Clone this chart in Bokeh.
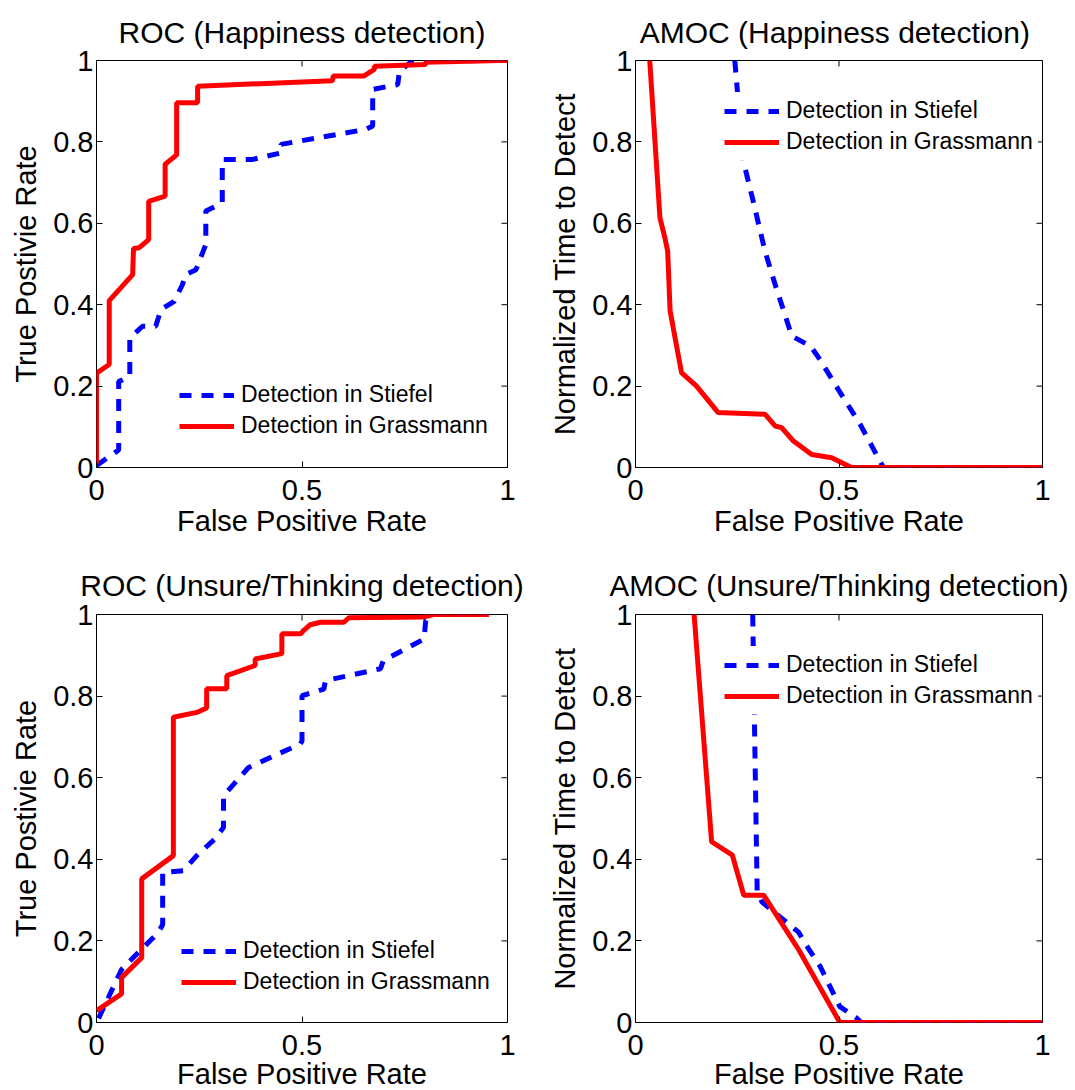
from bokeh.plotting import figure
from bokeh.models import Range1d, FixedTicker, CustomJSTickFormatter, Legend, LegendItem
from bokeh.layouts import column, row
from bokeh.embed import file_html
from bokeh.resources import INLINE

FONT = "Liberation Sans"
BLUE = "#0000ff"
RED = "#ff0000"

# ---------------- data ----------------
titles = ["ROC (Happiness detection)", "AMOC  (Happiness detection)",
          "ROC (Unsure/Thinking detection)", "AMOC (Unsure/Thinking detection)"]
xlabel = "False Positive Rate"
ylabel_roc = "True Postivie Rate"
ylabel_amoc = "Normalized Time to Detect"
legend_labels = ["Detection in Stiefel", "Detection in Grassmann"]
x_ticks = [0, 0.5, 1]
y_ticks = [0, 0.2, 0.4, 0.6, 0.8, 1]

# ROC - Happiness
roc_hap_stiefel_fpr = [0.0, 0.054, 0.054, 0.081, 0.081, 0.112, 0.144, 0.157, 0.189, 0.209, 0.217,
                       0.242, 0.266, 0.266, 0.306, 0.306, 0.38, 0.449, 0.449, 0.656, 0.672, 0.672,
                       0.733, 0.737, 0.769, 1.0]
roc_hap_stiefel_tpr = [0.005, 0.043, 0.211, 0.224, 0.318, 0.347, 0.347, 0.388, 0.408, 0.449, 0.474,
                       0.486, 0.548, 0.63, 0.65, 0.757, 0.757, 0.773, 0.794, 0.831, 0.839, 0.929,
                       0.941, 0.974, 0.999, 1.0]
roc_hap_grass_fpr = [0.0, 0.0, 0.031, 0.031, 0.088, 0.090, 0.104, 0.127, 0.127, 0.167, 0.167, 0.195,
                     0.195, 0.246, 0.246, 0.574, 0.576, 0.651, 0.676, 0.676, 0.801, 0.801, 0.98, 1.0]
roc_hap_grass_tpr = [0.01, 0.232, 0.253, 0.41, 0.474, 0.538, 0.54, 0.56, 0.654, 0.667, 0.745, 0.768,
                     0.896, 0.896, 0.937, 0.95, 0.962, 0.962, 0.978, 0.986, 0.99, 0.996, 1.0, 1.0]

# AMOC - Happiness
amoc_hap_stiefel_fpr = [0.244, 0.251, 0.265, 0.289, 0.318, 0.343, 0.384, 0.43, 0.45, 0.498, 0.552,
                        0.609, 1.0]
amoc_hap_stiefel_t = [1.0, 0.917, 0.753, 0.655, 0.532, 0.45, 0.323, 0.298, 0.27, 0.192, 0.106,
                      0.0, 0.0]
amoc_hap_grass_fpr = [0.035, 0.06, 0.072, 0.079, 0.085, 0.113, 0.15, 0.203, 0.318, 0.343, 0.359,
                      0.388, 0.433, 0.482, 0.531, 1.0]
amoc_hap_grass_t = [1.0, 0.614, 0.565, 0.532, 0.385, 0.233, 0.2, 0.135, 0.131, 0.102, 0.098,
                    0.065, 0.032, 0.024, 0.0, 0.0]

# ROC - Unsure/Thinking
roc_uns_stiefel_fpr = [0.005, 0.061, 0.1, 0.15, 0.161, 0.161, 0.211, 0.244, 0.288, 0.309, 0.309,
                       0.37, 0.496, 0.5, 0.5, 0.553, 0.557, 0.691, 0.698, 0.797, 0.801, 0.821, 0.955]
roc_uns_stiefel_tpr = [0.01, 0.13, 0.17, 0.22, 0.24, 0.368, 0.372, 0.409, 0.45, 0.478, 0.556,
                       0.625, 0.683, 0.69, 0.801, 0.817, 0.838, 0.867, 0.887, 0.94, 0.985, 1.0, 1.0]
roc_uns_grass_fpr = [0.0, 0.061, 0.061, 0.11, 0.11, 0.187, 0.187, 0.244, 0.268, 0.268, 0.317, 0.317,
                     0.386, 0.386, 0.451, 0.451, 0.497, 0.503, 0.52, 0.545, 0.602, 0.614, 0.797,
                     0.821, 0.955]
roc_uns_grass_tpr = [0.029, 0.07, 0.11, 0.159, 0.352, 0.409, 0.748, 0.76, 0.771, 0.818, 0.818, 0.85,
                     0.875, 0.891, 0.904, 0.953, 0.953, 0.96, 0.975, 0.981, 0.981, 0.992, 0.994,
                     1.0, 1.0]

# AMOC - Unsure/Thinking
amoc_uns_stiefel_fpr = [0.288, 0.299, 0.311, 0.4, 0.425, 0.454, 0.478, 0.502, 0.543, 0.555, 1.0]
amoc_uns_stiefel_t = [1.0, 0.32, 0.295, 0.222, 0.181, 0.137, 0.088, 0.039, 0.011, 0.0, 0.0]
amoc_uns_grass_fpr = [0.144, 0.187, 0.238, 0.266, 0.315, 0.4, 0.502, 1.0]
amoc_uns_grass_t = [1.0, 0.443, 0.41, 0.312, 0.312, 0.18, 0.0, 0.0]

TICK_LEN = 6  # px, ticks drawn inside the box (MATLAB style)


def make_panel(title, ylabel, sx, sy, gx, gy, leg_xy, left, right, top, bottom, fw, fh,
               title_standoff, xlabel_standoff, title_size="30px"):
    p = figure(output_backend="svg", toolbar_location=None,
               frame_width=fw, frame_height=fh,
               min_border_left=left, min_border_right=right,
               min_border_top=top, min_border_bottom=bottom,
               x_range=Range1d(0, 1), y_range=Range1d(0, 1))
    p.grid.visible = False
    p.outline_line_color = "black"
    p.outline_line_width = 1
    p.background_fill_color = "white"
    p.border_fill_color = "white"

    p.title.text = title
    p.title.align = "center"
    p.title.text_font = FONT
    p.title.text_font_size = title_size
    p.title.text_font_style = "normal"
    p.title.text_color = "black"
    p.title.text_line_height = 1.0
    p.title.standoff = title_standoff

    fmt = CustomJSTickFormatter(code="return tick.toString();")
    for ax, ticks in ((p.xaxis[0], x_ticks), (p.yaxis[0], y_ticks)):
        ax.ticker = FixedTicker(ticks=ticks)
        ax.formatter = fmt
        ax.major_tick_in = TICK_LEN
        ax.major_tick_out = 0
        ax.minor_tick_line_color = None
        ax.axis_line_color = None
        ax.major_tick_line_color = "black"
        ax.major_label_text_font = FONT
        ax.major_label_text_font_size = "29px"
        ax.major_label_text_color = "black"
        ax.axis_label_text_font = FONT
        ax.axis_label_text_font_size = "29px"
        ax.axis_label_text_font_style = "normal"
        ax.axis_label_text_color = "black"
    p.xaxis[0].axis_label = xlabel
    p.xaxis[0].major_label_standoff = 12
    p.xaxis[0].axis_label_standoff = xlabel_standoff
    p.yaxis[0].axis_label = ylabel
    p.yaxis[0].major_label_standoff = 3
    p.yaxis[0].axis_label_standoff = 8

    # mirrored inside ticks on the top and right edges of the box
    p.segment(x0=x_ticks, y0=[1] * len(x_ticks), x1=x_ticks,
              y1=[1 - TICK_LEN / fh] * len(x_ticks), line_color="black", line_width=1)
    p.segment(x0=[1] * len(y_ticks), y0=y_ticks, x1=[1 - TICK_LEN / fw] * len(y_ticks),
              y1=y_ticks, line_color="black", line_width=1)

    rs = p.line(sx, sy, line_color=BLUE, line_width=5, line_dash="12 10")
    rg = p.line(gx, gy, line_color=RED, line_width=5)

    legend = Legend(items=[LegendItem(label=legend_labels[0], renderers=[rs]),
                           LegendItem(label=legend_labels[1], renderers=[rg])],
                    location=leg_xy, orientation="vertical",
                    label_text_font=FONT, label_text_font_size="23px", label_text_color="black",
                    glyph_width=55, glyph_height=24, label_height=24, spacing=4,
                    padding=5, margin=0, label_standoff=7,
                    background_fill_color="white", background_fill_alpha=1.0,
                    border_line_alpha=0)
    p.add_layout(legend)
    return p


p1 = make_panel(titles[0], ylabel_roc, roc_hap_stiefel_fpr, roc_hap_stiefel_tpr,
                roc_hap_grass_fpr, roc_hap_grass_tpr, (78, 23), 96, 34, 60, 81, 411, 407, 24, 2)
p2 = make_panel(titles[1], ylabel_amoc, amoc_hap_stiefel_fpr, amoc_hap_stiefel_t,
                amoc_hap_grass_fpr, amoc_hap_grass_t, (84, 307), 94, 31, 60, 81, 407, 407, 24, 2)
p3 = make_panel(titles[2], ylabel_roc, roc_uns_stiefel_fpr, roc_uns_stiefel_tpr,
                roc_uns_grass_fpr, roc_uns_grass_tpr, (80, 22), 96, 34, 66, 64, 411, 408, 25, 0)
p4 = make_panel(titles[3], ylabel_amoc, amoc_uns_stiefel_fpr, amoc_uns_stiefel_t,
                amoc_uns_grass_fpr, amoc_uns_grass_t, (84, 308), 94, 31, 66, 64, 407, 408, 25, 0,
                title_size="29.5px")

layout = column(row(p1, p2), row(p3, p4))
open("out.html", "w").write(file_html(layout, INLINE))
